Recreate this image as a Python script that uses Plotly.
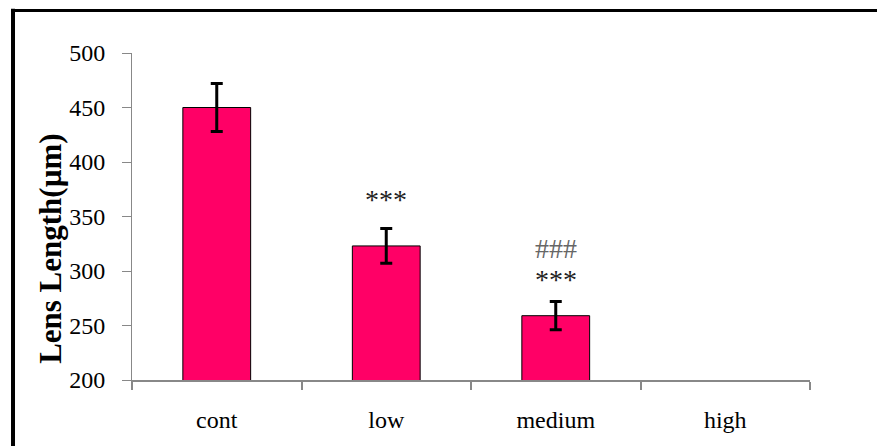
import plotly.graph_objects as go

categories = ["cont", "low", "medium", "high"]
lens_length = [450, 323, 259, None]
error_sd = [22, 16, 13, None]
sig_star_labels = ["", "***", "***", ""]
sig_star_y = [None, 366, 292, None]
sig_hash_labels = ["", "", "###", ""]
sig_hash_y = [None, None, 321, None]
y_ticks = [200, 250, 300, 350, 400, 450, 500]

FONT = "Liberation Serif"

fig = go.Figure()
fig.add_trace(go.Bar(
    x=categories, y=lens_length, width=0.4,
    marker=dict(color="#FF0066", line=dict(color="black", width=1)),
    error_y=dict(type="data", array=error_sd, visible=True,
                 color="black", thickness=3, width=6),
))

for c, t, yv in zip(categories, sig_star_labels, sig_star_y):
    if t:
        fig.add_annotation(x=c, y=yv, text=t, showarrow=False,
                           font=dict(family=FONT, size=28, color="#222"))
for c, t, yv in zip(categories, sig_hash_labels, sig_hash_y):
    if t:
        fig.add_annotation(x=c, y=yv, text=t, showarrow=False,
                           font=dict(family=FONT, size=28, color="#666"))

fig.add_annotation(xref="paper", yref="paper", x=-0.1195, y=0.404,
                   xanchor="center", yanchor="middle",
                   text="<b>Lens Length(µm)</b>", textangle=-90, showarrow=False,
                   font=dict(family=FONT, size=31, color="black"))

# outer frame (top and left edges visible)
fig.add_shape(type="line", xref="paper", yref="paper",
              x0=-0.178, x1=1.13, y0=1.13, y1=1.13,
              line=dict(color="black", width=3))
fig.add_shape(type="line", xref="paper", yref="paper",
              x0=-0.1755, x1=-0.1755, y0=1.135, y1=-0.23,
              line=dict(color="black", width=4))

fig.update_layout(
    width=877, height=438,
    margin=dict(l=124, r=75, t=45, b=66),
    paper_bgcolor="white", plot_bgcolor="white",
    showlegend=False,
    font=dict(family=FONT, color="black"),
)
fig.update_xaxes(
    range=[-0.5, 3.5], showline=True, linecolor="#888", linewidth=2,
    ticks="outside", tickson="boundaries", ticklen=8, tickcolor="#888", tickwidth=2,
    tickfont=dict(family=FONT, size=24, color="black"),
    ticklabelstandoff=17, showgrid=False, zeroline=False,
)
fig.update_yaxes(
    range=[200, 500], tickvals=y_ticks, showline=True, linecolor="#888", linewidth=1,
    ticks="outside", ticklen=9, tickcolor="#888", tickwidth=1,
    tickfont=dict(family=FONT, size=24, color="black"),
    ticklabelstandoff=12, showgrid=False, zeroline=False,
)

fig.write_html("out.html")
